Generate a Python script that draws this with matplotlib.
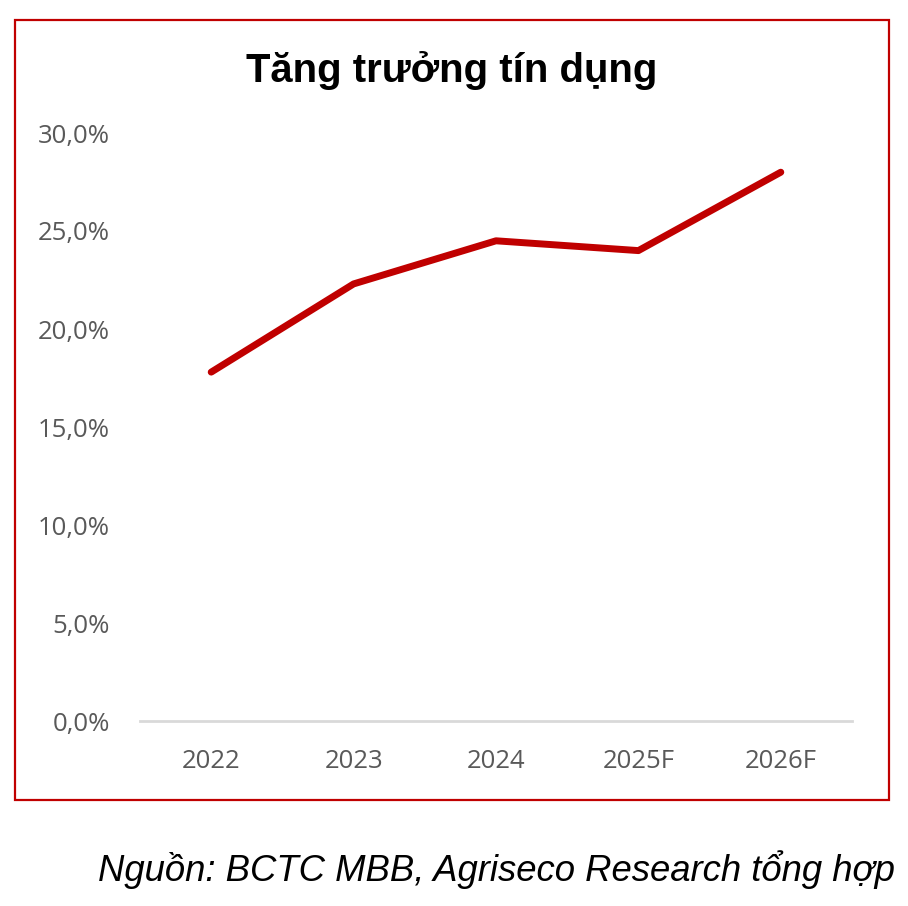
import matplotlib
matplotlib.use("Agg")
import matplotlib.pyplot as plt
from matplotlib.patches import Rectangle

years = ["2022", "2023", "2024", "2025F", "2026F"]
credit_growth = [17.8, 22.3, 24.5, 24.0, 28.0]
y_ticks = [0, 5, 10, 15, 20, 25, 30]
y_labels = ["0,0%", "5,0%", "10,0%", "15,0%", "20,0%", "25,0%", "30,0%"]

W, H = 908, 906
fig = plt.figure(figsize=(W / 100, H / 100), dpi=100)
ax = fig.add_axes([140 / W, 1 - 721 / H, (852 - 140) / W, (721 - 133) / H])

ax.plot(range(len(years)), credit_growth, color="#C00000", lw=5,
        solid_capstyle="round", solid_joinstyle="round")
ax.set_xlim(-0.5, len(years) - 0.5)
ax.set_ylim(0, 30)
ax.set_xticks(range(len(years)))
ax.set_xticklabels(years)
ax.set_yticks(y_ticks)
ax.set_yticklabels(y_labels)
for s in ["top", "right", "left"]:
    ax.spines[s].set_visible(False)
ax.spines["bottom"].set_color("#D9D9D9")
ax.spines["bottom"].set_linewidth(2)
ax.tick_params(length=0, labelsize=18.5, labelcolor="#595959")
ax.tick_params(axis="x", pad=20)
ax.tick_params(axis="y", pad=21.5)
for lab in ax.get_xticklabels() + ax.get_yticklabels():
    lab.set_fontfamily("Open Sans")

fig.text(452 / W, 1 - 70 / H, "Tăng trưởng tín dụng", ha="center", va="center",
         fontsize=28.8, fontweight="bold", family="Liberation Sans")

fig.patches.append(Rectangle((15 / W, 1 - 800 / H), (889 - 15) / W, (800 - 20) / H,
                             transform=fig.transFigure, fill=False,
                             edgecolor="#C00000", lw=1.6))

fig.text(895 / W, 1 - 870 / H, "Nguồn: BCTC MBB, Agriseco Research tổng hợp",
         ha="right", va="center", fontsize=26.3, style="italic",
         family="Liberation Sans")

fig.savefig("out.png", dpi=100, facecolor="white")
